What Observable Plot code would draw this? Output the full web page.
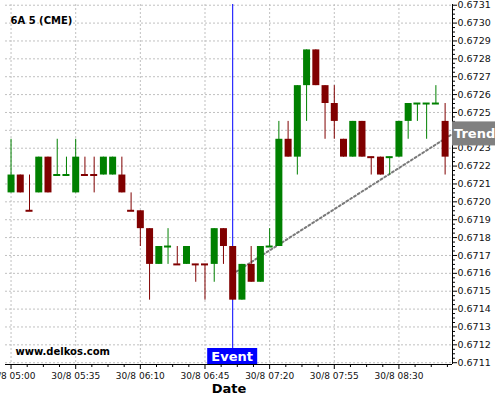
<!DOCTYPE html>
<html><head><meta charset="utf-8">
<script src="https://cdn.jsdelivr.net/npm/d3@7"></script>
<script src="https://cdn.jsdelivr.net/npm/@observablehq/plot@0.6"></script>
<style>body{margin:0;background:#fff}svg{display:block}</style>
</head><body><div id="chart"></div>
<script>
const times = ["05:00","05:05","05:10","05:15","05:20","05:25","05:30","05:35","05:40","05:45","05:50","05:55",
"06:00","06:05","06:10","06:15","06:20","06:25","06:30","06:35","06:40","06:45","06:50","06:55",
"07:00","07:05","07:10","07:15","07:20","07:25","07:30","07:35","07:40","07:45","07:50","07:55",
"08:00","08:05","08:10","08:15","08:20","08:25","08:30","08:35","08:40","08:45","08:50","08:55"];
const opens = [0.67205,0.67215,0.67195,0.67205,0.67225,0.67215,0.67215,0.67205,0.67215,0.67215,0.67215,0.67215,
0.67215,0.67195,0.67195,0.67185,0.67165,0.67175,0.67165,0.67165,0.67165,0.67165,0.67165,0.67185,
0.67175,0.67145,0.67165,0.67155,0.67175,0.67175,0.67235,0.67225,0.67265,0.67285,0.67265,0.67255,
0.67235,0.67225,0.67245,0.67225,0.67225,0.67225,0.67225,0.67245,0.67255,0.67255,0.67255,0.67245];
const highs = [0.67235,0.67215,0.67215,0.67225,0.67225,0.67235,0.67225,0.67235,0.67225,0.67225,0.67225,0.67225,
0.67225,0.67205,0.67195,0.67185,0.67175,0.67185,0.67175,0.67175,0.67165,0.67165,0.67185,0.67185,
0.67175,0.67165,0.67175,0.67175,0.67185,0.67245,0.67245,0.67265,0.67285,0.67285,0.67265,0.67265,
0.67235,0.67245,0.67245,0.67225,0.67225,0.67225,0.67245,0.67255,0.67255,0.67255,0.67265,0.67255];
const lows = [0.67205,0.67205,0.67195,0.67205,0.67205,0.67215,0.67215,0.67205,0.67215,0.67205,0.67215,0.67215,
0.67205,0.67195,0.67175,0.67145,0.67165,0.67165,0.67165,0.67165,0.67155,0.67145,0.67155,0.67165,
0.67145,0.67145,0.67155,0.67155,0.67175,0.67175,0.67225,0.67215,0.67245,0.67265,0.67235,0.67235,
0.67225,0.67225,0.67225,0.67215,0.67215,0.67215,0.67225,0.67235,0.67245,0.67235,0.67255,0.67215];
const closes = [0.67215,0.67205,0.67195,0.67225,0.67205,0.67215,0.67215,0.67225,0.67215,0.67215,0.67225,0.67225,
0.67205,0.67195,0.67185,0.67165,0.67175,0.67175,0.67165,0.67175,0.67165,0.67165,0.67185,0.67175,
0.67145,0.67165,0.67155,0.67175,0.67175,0.67235,0.67225,0.67265,0.67285,0.67265,0.67255,0.67245,
0.67225,0.67245,0.67225,0.67225,0.67215,0.67225,0.67245,0.67255,0.67255,0.67255,0.67255,0.67225];
const xTickTimes = ["05:00","05:35","06:10","06:45","07:20","07:55","08:30"];
const xTickLabels = ["30/8 05:00","30/8 05:35","30/8 06:10","30/8 06:45","30/8 07:20","30/8 07:55","30/8 08:30"];
const yTicks = [0.6711,0.6712,0.6713,0.6714,0.6715,0.6716,0.6717,0.6718,0.6719,0.6720,0.6721,0.6722,0.6723,0.6724,0.6725,0.6726,0.6727,0.6728,0.6729,0.6730,0.6731];
const eventTime = "07:00";
const eventLabel = "Event";
const trendTimes = ["07:02","08:59"];
const trendPrices = [0.67161,0.67238];
const trendLabel = "Trend";
const title = "6A 5 (CME)";
const watermark = "www.delkos.com";
const xLabel = "Date";

const toMin = t => { const [h,m] = t.split(":").map(Number); return h*60+m-300; };
const UP = "#008000", DOWN = "#800000";
let prevColor = UP;
const candles = times.map((t,i) => {
  let c;
  if (closes[i] > opens[i]) c = UP;
  else if (closes[i] < opens[i]) c = DOWN;
  else if (i > 0 && closes[i] > closes[i-1]) c = UP;
  else if (i > 0 && closes[i] < closes[i-1]) c = DOWN;
  else c = prevColor;
  prevColor = c;
  return {m: toMin(t), o: opens[i], h: highs[i], l: lows[i], c: closes[i], color: c};
});
const xTicks = xTickTimes.map(toMin);
const labelMap = new Map(xTicks.map((d,i)=>[d, xTickLabels[i]]));
const minorX = [];
for (let k = 0; k <= 27; k++) { const v = k*8.75; if (k%4 !== 0 && v < 239) minorX.push(v); }
const minorY = [];
for (let k = 0; k < 80; k++) { if (k%4 !== 0) minorY.push(+(0.6711 + k*0.000025).toFixed(6)); }
const trend = trendTimes.map((t,i)=>({m: toMin(t), p: trendPrices[i]}));
const xDomain = [-3, 239], yDomain = [0.67109, 0.673104];

const chart = Plot.plot({
  width: 500, height: 400,
  marginLeft: 5, marginRight: 48, marginTop: 4, marginBottom: 36,
  style: {fontFamily: "DejaVu Sans", fontSize: "9px", color: "#000", background: "#fff"},
  x: {type: "linear", domain: xDomain, label: null},
  y: {domain: yDomain, label: null},
  marks: [
    Plot.gridY(yTicks, {stroke: "#c0c0c0", strokeOpacity: 1, strokeDasharray: "2,2"}),
    Plot.gridX(xTicks, {stroke: "#c0c0c0", strokeOpacity: 1, strokeDasharray: "2,2"}),
    Plot.ruleX([toMin(eventTime)], {stroke: "#0000ff", strokeWidth: 1}),
    Plot.line(trend, {x: "m", y: "p", stroke: "#7a7a7a", strokeWidth: 2, strokeDasharray: "2,2.5"}),
    Plot.ruleX(candles, {x: "m", y1: "l", y2: "h", stroke: "color", strokeWidth: 1}),
    Plot.ruleX(candles, {x: "m", y1: "o", y2: "c", stroke: "color", strokeWidth: 7}),
    Plot.ruleY(candles.filter(d => d.o === d.c), {y: "c", x1: d => d.m - 1.9, x2: d => d.m + 1.9, stroke: "color", strokeWidth: 2}),
    Plot.ruleX([xDomain[1]], {stroke: "#000", strokeWidth: 1}),
    Plot.ruleY([yDomain[0]], {stroke: "#000", strokeWidth: 1}),
    Plot.axisY(yTicks, {anchor: "right", tickSize: 4, tickPadding: 1, tickFormat: d3.format(".4f"), fontSize: 9.5, fill: "#111"}),
    Plot.axisY(minorY, {anchor: "right", tickSize: 2, tickFormat: () => ""}),
    Plot.axisX(xTicks, {anchor: "bottom", tickSize: 5, tickPadding: 3, tickFormat: d => labelMap.get(d), fontSize: 9, fill: "#111"}),
    Plot.axisX(minorX, {anchor: "bottom", tickSize: 3, tickFormat: () => ""}),
    Plot.text([title], {frameAnchor: "top-left", dx: 5, dy: 12, text: d => d, fontWeight: "bold", fontSize: 10, fill: "#000", textAnchor: "start"}),
    Plot.text([watermark], {frameAnchor: "bottom-left", dx: 10, dy: -10, text: d => d, fontWeight: "bold", fontSize: 10, fill: "#000", textAnchor: "start"}),
    Plot.text([xLabel], {frameAnchor: "bottom", dy: 28, text: d => d, fontWeight: "bold", fontSize: 13, fill: "#000"})
  ]
});
document.getElementById("chart").appendChild(chart);

const sx = chart.scale("x"), sy = chart.scale("y");
const svg = d3.select(chart);
const bottom = sy.apply(yDomain[0]);
const ex = sx.apply(toMin(eventTime));
const eg = svg.append("g");
eg.append("rect").attr("x", ex - 25).attr("y", bottom - 16).attr("width", 50).attr("height", 16).attr("fill", "#0000ff");
eg.append("text").attr("x", ex).attr("y", bottom - 3).attr("text-anchor", "middle")
  .attr("font-family", "DejaVu Sans").attr("font-weight", "bold").attr("font-size", 13).attr("fill", "#fff").text(eventLabel);
const right = sx.apply(xDomain[1]);
const ty = sy.apply(trendPrices[1]);
const tg = svg.append("g");
tg.append("rect").attr("x", right).attr("y", ty - 12).attr("width", 43).attr("height", 24).attr("fill", "#808080");
tg.append("text").attr("x", right + 2).attr("y", ty + 5).attr("text-anchor", "start").attr("font-family", "DejaVu Sans").attr("font-weight", "bold")
  .attr("font-size", 13).attr("fill", "#fff").text(trendLabel);
</script>
</body></html>
